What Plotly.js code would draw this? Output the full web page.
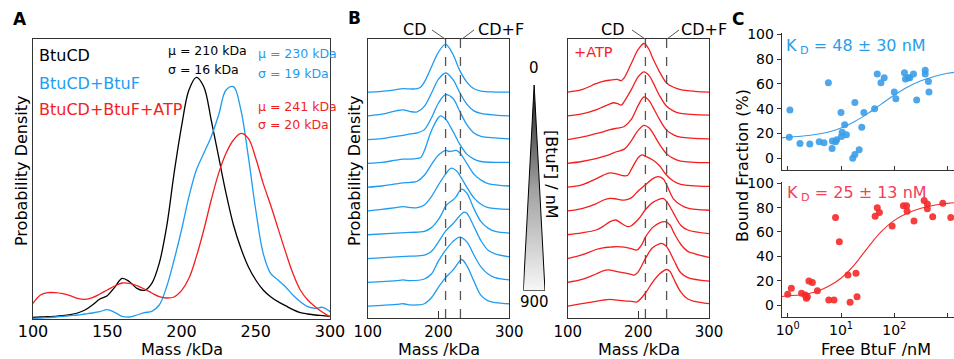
<!DOCTYPE html>
<html><head><meta charset="utf-8">
<script src="https://cdn.plot.ly/plotly-3.0.1.min.js"></script>
<style>html,body{margin:0;padding:0;background:#fff}#chart{width:954px;height:359px}</style>
</head><body><div id="chart"></div>
<script>
// ---------- Panel A data ----------
const massA = [100,105,110,115,120,125,130,135,140,145,150,155,160,165,170,175,180,185,190,195,200,205,210,215,220,225,230,235,240,245,250,255,260,265,270,275,280,285,290,295,300];
const densBtuCD = [0.3,0.4,0.5,0.6,0.8,1.1,1.6,2.5,4.0,5.8,6.8,9.3,12.0,11.0,9.0,8.4,10.5,16.5,27.5,43.5,57.5,68.5,72.3,69.5,59.5,48.5,37.5,28.0,21.0,15.5,11.5,8.5,6.5,5.0,3.8,2.6,1.7,1.3,1.0,0.8,0.6];
const densBtuCDF = [0.0,0.1,0.2,0.4,0.6,0.8,1.0,1.3,1.6,2.0,2.6,1.8,0.6,0.4,1.0,1.7,2.1,4.0,9.5,17.5,26.5,36.5,44.5,49.5,54.5,61.0,68.5,69.5,62.5,48.5,32.5,19.5,13.5,11.5,9.5,7.0,5.0,3.5,3.0,3.3,2.0];
const densBtuCDFATP = [4.5,7.0,7.7,7.7,7.4,6.8,6.0,5.7,6.2,7.3,8.5,9.7,10.6,10.5,9.8,8.8,7.6,6.5,6.1,6.4,8.3,12.0,18.5,26.5,35.5,43.5,49.5,53.5,55.5,54.0,48.0,40.5,34.0,27.0,20.0,13.5,8.5,5.5,3.5,1.8,0.5];
const seriesNamesA = ['BtuCD','BtuCD+BtuF','BtuCD+BtuF+ATP'];
const statsMu = ['μ = 210 kDa','μ = 230 kDa','μ = 241 kDa'];
const statsSigma = ['σ = 16 kDa','σ = 19 kDa','σ = 20 kDa'];

// ---------- Panel B data (top trace first, heights in units of trace spacing) ----------
const blueRidgeMass = [
 [100,120,140,150,160,170,175,180,190,200,210,220,230,240,250,260,280,300],
 [100,120,140,150,160,170,180,190,200,210,220,230,240,250,260,280,300],
 [100,120,140,150,160,170,180,190,200,210,220,230,240,250,260,280,300],
 [100,120,140,150,160,170,175,180,190,200,203,210,220,230,240,250,260,300],
 [100,120,140,150,160,170,180,190,200,210,215,220,225,230,240,250,260,270,300],
 [100,120,140,150,160,170,180,190,200,210,218,225,230,240,250,260,270,300],
 [100,140,160,180,190,200,205,210,215,220,225,230,233,240,250,260,270,280,300],
 [100,140,160,180,190,200,210,220,230,236,240,250,260,270,280,300],
 [100,140,150,160,180,190,200,210,220,230,240,250,260,270,280,300],
 [100,140,150,160,170,180,190,200,210,220,230,233,240,250,260,270,280,300]
];
const blueRidgeDens = [
 [0,.03,.1,.14,.13,.14,.21,.42,1.05,1.68,2.0,1.61,.91,.42,.14,.04,0,0],
 [0,.07,.21,.25,.18,.17,.40,.95,1.54,1.8,1.54,.98,.49,.21,.1,.03,0],
 [0,.04,.14,.18,.24,.28,.42,.91,1.54,1.89,1.75,1.19,.63,.28,.14,.07,.03],
 [0,.04,.14,.18,.18,.21,.25,.53,1.37,1.93,2.0,1.86,1.37,.81,.39,.18,.08,.04],
 [0,.05,.14,.18,.2,.25,.5,.95,1.35,1.55,1.5,1.52,1.55,1.45,1.0,.55,.3,.15,.05],
 [0,.07,.14,.18,.14,.14,.25,.6,1.1,1.55,1.8,1.7,1.5,1.0,.55,.28,.14,.07],
 [0,.07,.1,.14,.3,.65,.9,1.2,1.35,1.45,1.6,1.85,1.92,1.75,1.1,.55,.28,.14,.07],
 [0,.07,.1,.14,.3,.7,1.15,1.45,1.8,1.95,1.9,1.35,.75,.35,.2,.07],
 [0,.07,.1,.07,.14,.35,.9,1.35,1.7,1.9,1.7,1.15,.65,.35,.2,.1],
 [0,.07,.1,.05,.05,.1,.35,.8,1.2,1.5,1.9,1.96,1.7,1.05,.45,.22,.15,.1]
];
const redRidgeMass = [
 [100,120,140,150,160,170,176,180,190,200,208,215,220,230,240,250,260,280,300],
 [100,120,140,150,160,165,170,176,180,190,200,208,215,220,230,240,250,260,300],
 [100,120,140,150,160,170,180,190,200,208,215,220,230,240,250,260,300],
 [100,120,140,150,160,170,180,190,200,208,215,220,230,240,250,260,300],
 [100,120,140,150,160,170,180,185,190,200,205,210,220,230,240,250,260,300],
 [100,120,140,150,160,170,180,190,200,210,220,228,235,240,250,260,270,300],
 [100,120,140,150,160,168,175,185,190,200,210,220,230,235,240,250,260,270,300],
 [100,120,140,150,160,170,180,190,198,205,210,220,230,238,245,250,260,270,280,300],
 [100,120,140,150,157,170,180,190,195,200,210,220,230,233,240,250,260,270,300],
 [100,120,140,150,160,170,180,190,198,210,220,230,240,245,250,260,270,280,300]
];
const redRidgeDens = [
 [0,.1,.35,.45,.5,.53,.48,.6,1.2,1.8,2.04,1.8,1.45,.85,.38,.2,.1,.03,0],
 [0,.08,.25,.38,.5,.55,.52,.45,.6,1.1,1.65,1.85,1.7,1.45,.85,.4,.2,.1,.03],
 [0,.1,.25,.33,.42,.48,.55,.85,1.45,1.8,1.65,1.4,.85,.4,.2,.1,.03],
 [0,.08,.2,.28,.38,.5,.6,.95,1.4,1.6,1.5,1.3,.8,.4,.2,.1,.03],
 [0,.1,.35,.5,.6,.55,.48,.5,.75,1.25,1.36,1.3,1.15,.9,.5,.25,.12,.03],
 [0,.1,.3,.45,.53,.5,.46,.55,.85,1.1,1.35,1.44,1.35,1.1,.5,.25,.12,.03],
 [0,.08,.2,.35,.55,.62,.5,.34,.38,.65,1.05,1.35,1.5,1.53,1.4,.9,.4,.2,.05],
 [0,.15,.38,.45,.48,.5,.48,.42,.36,.6,.9,1.3,1.5,1.55,1.4,1.1,.6,.3,.2,.05],
 [0,.12,.35,.48,.52,.45,.4,.33,.31,.45,1.0,1.45,1.62,1.64,1.5,.95,.4,.2,.05],
 [0,.1,.2,.25,.28,.25,.22,.2,.18,.55,1.0,1.35,1.54,1.45,1.15,.6,.3,.2,.1]
];
const peakLinesBlue = [210, 231];
const peakLinesRed = [210, 240];
const peakLabels = ['CD','CD+F'];
const concLabels = ['0','900'];

// ---------- Panel C data ----------
const freeBtuF_noATP = [1.1,1.07,1.7,2.6,3.9,4.8,5.8,6.8,6.9,7.9,8.3,10,10.2,10.5,11.7,12.6,16.6,18.2,18.2,21.9,24.5,26.9,42.7,47.9,56.2,64.6,100,107,155,162,182,195,229,263,380,380,437,447];
const bound_noATP = [39,17,12,11.6,13.4,12.6,61,8,14,13.4,15,37,17.5,21,27,19,0,3,45,7,25,37,40,68,61,65,53.5,48,69,64,65,65,68,47,71,68,62,53.5];
const fitX_noATP = [0.77,1,1.78,3.16,5.62,10,17.8,31.6,56.2,100,178,316,562,1000,1318];
const fitY_noATP = [16.5,17,17.8,19,21,24.5,29.5,36,43.5,51,57.5,62.5,66,68.5,69.3];
const freeBtuF_ATP = [1.0,1.17,1.82,2.14,2.24,2.34,2.5,2.9,3.6,5.9,7.4,7.9,9.3,13.5,14.8,19.1,20,43.7,47.9,52.5,91,148,170,174,234,363,417,417,525,813,1148];
const bound_ATP = [8.8,13.7,9.6,8.2,5.5,6.8,19.7,18.4,11.8,4.1,4.1,71.8,52,24.7,2.2,26,6.8,73,80,76,65,81.6,81.6,77,69,85.8,83,79,72.6,83.6,71.8];
const fitX_ATP = [0.77,1,1.78,3.16,5.62,10,17.8,31.6,56.2,100,178,316,562,1000,1318];
const fitY_ATP = [7,7.5,8.5,10.5,15,22,33,47,60,69.5,75.5,79.5,82,83.5,84];
const xTickValsC = [1,10,100,1000];
const xTickTextC = ['10<sup>0</sup>','10<sup>1</sup>','10<sup>2</sup>','10<sup>3</sup>'];
const kdLabels = ['K<sub> D</sub> = 48 ± 30 nM','K<sub> D</sub> = 25 ± 13 nM'];

// ---------- styling ----------
const W = 954, H = 359;
const px = x => x / W, py = y => 1 - y / H;
const FONT = 'DejaVu Sans';
const BLACK = '#000000', BLUE = '#1e9cf2', RED = '#f51e1e';
const BLUE_DOT = '#3a9de8', RED_DOT = '#f42a2a';
const FRAME = '#333333';

const traces = [];
// Panel A
[densBtuCD, densBtuCDF, densBtuCDFATP].forEach((d, i) => {
  traces.push({x: massA, y: d, xaxis: 'x', yaxis: 'y', type: 'scatter', mode: 'lines',
    line: {color: [BLACK, BLUE, RED][i], width: 1.3, shape: 'spline', smoothing: 1}, name: seriesNamesA[i]});
});
// Panel B ridges
const nR = blueRidgeMass.length;
blueRidgeMass.forEach((m, k) => {
  traces.push({x: m, y: blueRidgeDens[k].map(v => v + (nR - 1 - k)), xaxis: 'x2', yaxis: 'y2',
    type: 'scatter', mode: 'lines', line: {color: BLUE, width: 1.3, shape: 'spline', smoothing: 1}});
});
redRidgeMass.forEach((m, k) => {
  traces.push({x: m, y: redRidgeDens[k].map(v => v + (nR - 1 - k)), xaxis: 'x3', yaxis: 'y3',
    type: 'scatter', mode: 'lines', line: {color: RED, width: 1.3, shape: 'spline', smoothing: 1}});
});
// Panel C
traces.push({x: freeBtuF_noATP, y: bound_noATP, xaxis: 'x4', yaxis: 'y4', type: 'scatter', mode: 'markers',
  marker: {color: BLUE_DOT, size: 7, opacity: 0.9}});
traces.push({x: fitX_noATP, y: fitY_noATP, xaxis: 'x4', yaxis: 'y4', type: 'scatter', mode: 'lines',
  line: {color: BLUE_DOT, width: 1.1, shape: 'spline'}});
traces.push({x: freeBtuF_ATP, y: bound_ATP, xaxis: 'x5', yaxis: 'y5', type: 'scatter', mode: 'markers',
  marker: {color: RED_DOT, size: 7, opacity: 0.9}});
traces.push({x: fitX_ATP, y: fitY_ATP, xaxis: 'x5', yaxis: 'y5', type: 'scatter', mode: 'lines',
  line: {color: RED_DOT, width: 1.1, shape: 'spline'}});
// gradient triangle
traces.push({x: [0, 0.5, 1, 0], y: [0, 1, 0, 0], xaxis: 'x6', yaxis: 'y6', type: 'scatter', mode: 'lines',
  fill: 'toself', line: {color: '#000', width: 1},
  fillgradient: {type: 'vertical', start: 0, stop: 1, colorscale: [[0, '#f7f7f7'], [0.5, '#a0a0a0'], [1, '#1e1e1e']]}});

const boxAxis = (extra) => Object.assign({showline: true, mirror: true, linecolor: FRAME, linewidth: 1,
  showgrid: false, zeroline: false, fixedrange: true}, extra);

const layout = {
  width: W, height: H, margin: {l: 0, r: 0, t: 0, b: 0}, showlegend: false, hovermode: false,
  paper_bgcolor: '#fff', plot_bgcolor: '#fff', font: {family: FONT, color: '#000'},
  xaxis: boxAxis({domain: [px(33), px(330)], range: [100, 300], tickvals: [100,150,200,250,300], ticks: '',
    tickfont: {size: 16, family: FONT}, ticklabelstandoff: -2, anchor: 'y'}),
  yaxis: boxAxis({domain: [py(319), py(39)], range: [-0.2, 83.8], showticklabels: false, ticks: '', anchor: 'x'}),
  xaxis2: boxAxis({domain: [px(367.7), px(509.3)], range: [100, 300], tickvals: [100,200,300], ticks: 'inside', ticklen: 7,
    tickcolor: FRAME, tickfont: {size: 15, family: FONT}, anchor: 'y2'}),
  yaxis2: boxAxis({domain: [py(318), py(39)], range: [-0.5, 11.23], showticklabels: false, ticks: '', anchor: 'x2'}),
  xaxis3: boxAxis({domain: [px(567.7), px(709)], range: [100, 300], tickvals: [100,200,300], ticks: 'inside', ticklen: 7,
    tickcolor: FRAME, tickfont: {size: 15, family: FONT}, anchor: 'y3'}),
  yaxis3: boxAxis({domain: [py(318), py(39)], range: [-0.5, 11.23], showticklabels: false, ticks: '', anchor: 'x3'}),
  xaxis4: {domain: [px(781.7), 1], type: 'log', range: [-0.1126, 3.12], tickvals: xTickValsC, ticktext: xTickTextC,
    showticklabels: false, ticks: 'inside', ticklen: 4, tickcolor: FRAME, showline: true, linecolor: FRAME,
    showgrid: false, zeroline: false, fixedrange: true, anchor: 'y4'},
  yaxis4: {domain: [py(170), py(33)], range: [-9.4, 101], tickvals: [0,20,40,60,80,100], ticks: 'outside', ticklen: 4,
    tickcolor: FRAME, showline: true, linecolor: FRAME, showgrid: false, zeroline: false, fixedrange: true,
    tickfont: {size: 14, family: FONT}, anchor: 'x4'},
  xaxis5: {domain: [px(781.7), 1], type: 'log', range: [-0.1126, 3.12], tickvals: xTickValsC, ticktext: xTickTextC,
    ticks: 'inside', ticklen: 4, tickcolor: FRAME, showline: true, linecolor: FRAME,
    showgrid: false, zeroline: false, fixedrange: true, tickfont: {size: 14, family: FONT}, anchor: 'y5'},
  yaxis5: {domain: [py(316.7), py(181.7)], range: [-9.6, 101.3], tickvals: [0,20,40,60,80,100], ticks: 'outside', ticklen: 4,
    tickcolor: FRAME, showline: true, linecolor: FRAME, showgrid: false, zeroline: false, fixedrange: true,
    tickfont: {size: 14, family: FONT}, anchor: 'x5'},
  xaxis6: {domain: [px(523.3), px(545)], range: [0, 1], visible: false, fixedrange: true, anchor: 'y6'},
  yaxis6: {domain: [py(290.7), py(85)], range: [0, 1], visible: false, fixedrange: true, anchor: 'x6'},
  shapes: [], annotations: []
};

// dashed peak lines in panel B
peakLinesBlue.forEach(m => layout.shapes.push({type: 'line', xref: 'x2', yref: 'y2 domain', x0: m, x1: m, y0: 0, y1: 1,
  line: {color: '#555', width: 1.3, dash: 'dash'}}));
peakLinesRed.forEach(m => layout.shapes.push({type: 'line', xref: 'x3', yref: 'y3 domain', x0: m, x1: m, y0: 0, y1: 1,
  line: {color: '#555', width: 1.3, dash: 'dash'}}));
// leader lines from labels to the dashed lines
const leader = (x0, y0, x1, y1) => layout.shapes.push({type: 'line', xref: 'paper', yref: 'paper',
  x0: px(x0), y0: py(y0), x1: px(x1), y1: py(y1), line: {color: '#555', width: 1}});
leader(432, 30, 445, 39); leader(474, 30, 462, 39);
leader(632, 30, 645, 39); leader(679, 30, 667, 39);

const ann = (text, x, y, opts) => layout.annotations.push(Object.assign({text, xref: 'paper', yref: 'paper',
  x: px(x), y: py(y), showarrow: false, xanchor: 'left', yanchor: 'middle',
  font: {family: FONT, size: 16, color: '#000'}}, opts || {}));

// panel letters
ann('<b>A</b>', 11, 19, {font: {family: FONT, size: 17}});
ann('<b>B</b>', 346, 18, {font: {family: FONT, size: 17}});
ann('<b>C</b>', 730, 19, {font: {family: FONT, size: 17}});
// Panel A legend & stats
[BLACK, BLUE, RED].forEach((c, i) => ann(seriesNamesA[i], 37, [56, 83, 109][i], {font: {family: FONT, size: 16, color: c}}));
ann(statsMu[0], 166, 51, {font: {family: FONT, size: 12.5, color: BLACK}});
ann(statsSigma[0], 166, 69, {font: {family: FONT, size: 12.5, color: BLACK}});
ann(statsMu[1], 256, 54, {font: {family: FONT, size: 12.5, color: BLUE}});
ann(statsSigma[1], 256, 73, {font: {family: FONT, size: 12.5, color: BLUE}});
ann(statsMu[2], 256, 106, {font: {family: FONT, size: 12.5, color: RED}});
ann(statsSigma[2], 256, 124, {font: {family: FONT, size: 12.5, color: RED}});
// axis titles
ann('Mass /kDa', 181.5, 349, {xanchor: 'center'});
ann('Mass /kDa', 438.5, 349, {xanchor: 'center'});
ann('Mass /kDa', 638.5, 349, {xanchor: 'center'});
ann('Free BtuF /nM', 876, 349, {xanchor: 'center'});
ann('Probability Density', 21, 171, {xanchor: 'center', textangle: -90});
ann('Probability Density', 354, 171, {xanchor: 'center', textangle: -90});
ann('Bound Fraction (%)', 742, 166, {xanchor: 'center', textangle: -90});
// Panel B labels
ann(peakLabels[0], 401, 30); ann(peakLabels[1], 476, 30);
ann(peakLabels[0], 599, 30); ann(peakLabels[1], 679, 30);
ann('+ATP', 572, 52, {font: {family: FONT, size: 14.5, color: RED}});
ann(concLabels[0], 534.3, 68, {xanchor: 'center', font: {family: FONT, size: 15}});
ann(concLabels[1], 534.3, 302, {xanchor: 'center', font: {family: FONT, size: 15}});
ann('[BtuF] / nM', 552, 174, {xanchor: 'center', textangle: 90});
// Panel C KD labels
ann(kdLabels[0], 784, 46, {font: {family: FONT, size: 16, color: '#2a9de8'}});
ann(kdLabels[1], 785, 193, {font: {family: FONT, size: 16, color: '#f0405a'}});

Plotly.newPlot('chart', traces, layout, {staticPlot: true, displayModeBar: false});
</script></body></html>
